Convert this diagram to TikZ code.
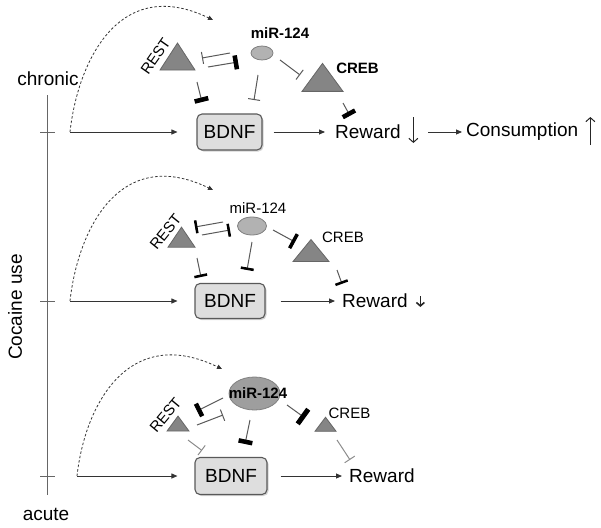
\documentclass[tikz,border=0pt]{standalone}
\usepackage{fontspec}
\setmainfont{Liberation Sans}
\usetikzlibrary{arrows.meta,shapes.geometric,shadows,positioning}
\tikzset{
  big/.style={font=\fontsize{19}{22}\selectfont, inner sep=1pt},
  lbl/.style={font=\fontsize{15}{18}\selectfont, inner sep=1pt},
  lblb/.style={font=\fontsize{15}{18}\selectfont\bfseries, inner sep=1pt},
  axis/.style={draw=black!60, line width=.9pt},
  bdnfbox/.style={big, draw=black!65, fill=black!13, rounded corners=5pt, line width=1.1pt,
    drop shadow={opacity=.35, shadow xshift=1.5pt, shadow yshift=-1.5pt}},
  tri/.style={isosceles triangle, isosceles triangle stretches, shape border rotate=90,
    inner sep=0pt, draw=black!60, fill=black!48, line width=.8pt},
  mirna/.style={ellipse, inner sep=0pt, draw=black!50, fill=black!30, line width=.8pt},
  act/.style={draw=black!80, line width=.9pt, -{Triangle[length=6pt,width=5pt]}},
  updn/.style={draw=black!85, line width=1pt, -{Straight Barb[length=4pt,width=9pt]}},
  dashcurve/.style={draw=black!80, line width=.8pt, dash pattern=on 2.5pt off 2pt,
    -{Triangle[length=5pt,width=4.5pt]}},
  inhthin/.style={draw=black!65, line width=1pt, -{Bar[width=12pt]}},
  inhlight/.style={draw=black!45, line width=1pt, -{Bar[width=12pt]}},
  inhmid/.style={draw=black!65, line width=1pt, -{Rectangle[length=2.5pt,width=13pt,black]}},
  inhthick/.style={draw=black!65, line width=1pt, -{Rectangle[length=4.5pt,width=14pt,black]}},
}
\begin{document}
\begin{tikzpicture}[x=1pt,y=-1pt]
\useasboundingbox (0,0) rectangle (601,527);
% time axis
\coordinate (axtop) at (47,95);
\coordinate (axbot) at (47,495);
\draw[axis] (axtop) -- (axbot);
\foreach \y in {132,301,476} \draw[axis] (40,\y) -- (55,\y);
\node[big] (chronic) at (48,79) {chronic};
\node[big] (acute) at (46,514) {acute};
\node[big, rotate=90] (use) at (15,307) {Cocaine use};

% chronic
\coordinate (s1) at (70,132);
\node[tri, minimum width=35pt, minimum height=27pt] (rest1) at (177.5,60.5) {};
\node[lbl, rotate=55] (restl1) at (155.5,56) {REST};
\node[mirna, minimum width=22pt, minimum height=14pt] (mir1) at (262,53) {};
\node[lblb] (mirl1) at (280,33) {miR-124};
\node[tri, minimum width=41pt, minimum height=28pt] (creb1) at (322.5,81) {};
\node[lblb] (crebl1) at (357.5,68) {CREB};
\node[bdnfbox, minimum width=65pt, minimum height=36pt] (bdnf1) at (229.5,132) {BDNF};
\node[big, anchor=west] (reward1) at (334,132) {Reward};
\node[big, anchor=west] (cons1) at (465,132) {Consumption};
\draw[dashcurve] (s1) .. controls +(8,-72) and +(-93,-45) .. ([shift={(-49,-33)}]mir1.center);
\draw[act] (s1) -- ([xshift=-19pt]bdnf1.west);
\draw[act] ([xshift=11pt]bdnf1.east) -- ([xshift=-9pt]reward1.west);
\draw[act] ([xshift=26.5pt]reward1.east) -- ([xshift=-3pt]cons1.west);
\draw[updn] ([shift={(11.5,-15)}]reward1.east) -- ++(0,26);
\draw[updn] ([shift={(11,13)}]cons1.east) -- ++(0,-28);
\draw[inhthin] ([shift={(-32,0)}]mir1.center) -- ([shift={(24.5,-2.5)}]rest1.center);
\draw[inhthick] ([shift={(30.5,6.5)}]rest1.center) -- ([shift={(-24,9)}]mir1.center);
\draw[inhthin] ([shift={(18,7)}]mir1.center) -- ([shift={(-22.5,-6)}]creb1.center);
\draw[inhthick] ([shift={(20.5,22)}]creb1.center) -- ([shift={(16,-8)}]reward1.north west);
\draw[inhthick] ([shift={(19.5,21.5)}]rest1.center) -- ([shift={(-27.5,-30)}]bdnf1.center);
\draw[inhthin] ([shift={(-4,22)}]mir1.center) -- ([shift={(24.5,-32)}]bdnf1.center);

% intermediate
\coordinate (s2) at (70,301);
\node[tri, minimum width=27pt, minimum height=20pt] (rest2) at (181.5,240) {};
\node[lbl, rotate=51] (restl2) at (165.5,232) {REST};
\node[mirna, minimum width=29pt, minimum height=18pt] (mir2) at (252,226) {};
\node[lbl] (mirl2) at (258,208) {miR-124};
\node[tri, minimum width=36pt, minimum height=22pt] (creb2) at (311,253) {};
\node[lbl] (crebl2) at (343,237) {CREB};
\node[bdnfbox, minimum width=70pt, minimum height=35pt] (bdnf2) at (230,301) {BDNF};
\node[big, anchor=west] (reward2) at (341,301) {Reward};
\draw[dashcurve] (s2) .. controls +(8,-72) and +(-93,-45) .. ([shift={(-39,-36)}]mir2.center);
\draw[act] (s2) -- ([xshift=-17pt]bdnf2.west);
\draw[act] ([xshift=15pt]bdnf2.east) -- ([xshift=-6pt]reward2.west);
\draw[updn, line width=1.6pt, -{Straight Barb[length=3.5pt,width=8pt]}] ([shift={(11.5,-5)}]reward2.east) -- ++(0,11);
\draw[inhmid] ([shift={(-29,-4)}]mir2.center) -- ([shift={(13.5,-13)}]rest2.center);
\draw[inhmid] ([shift={(20.5,-5)}]rest2.center) -- ([shift={(-22,4)}]mir2.center);
\draw[inhmid, -{Rectangle[length=3.5pt,width=16pt,black]}] ([shift={(21,4)}]mir2.center) -- ([shift={(-16,-11)}]creb2.center);
\draw[inhmid] ([shift={(26,17)}]creb2.center) -- ([shift={(1,-9)}]reward2.north west);
\draw[inhmid] ([shift={(15.5,18)}]rest2.center) -- ([shift={(-29,-24)}]bdnf2.center);
\draw[inhmid] ([shift={(0,16)}]mir2.center) -- ([shift={(17,-31)}]bdnf2.center);

% acute
\coordinate (s3) at (77,476);
\node[tri, minimum width=22pt, minimum height=15pt] (rest3) at (178,425.5) {};
\node[lbl, rotate=50] (restl3) at (165.5,415) {REST};
\node[mirna, fill=black!38, minimum width=51pt, minimum height=33pt] (mir3) at (254.5,393.5) {};
\node[lblb] (mirl3) at (258,393) {miR-124};
\node[tri, minimum width=21pt, minimum height=14pt] (creb3) at (325.5,426) {};
\node[lbl] (crebl3) at (349.5,413) {CREB};
\node[bdnfbox, minimum width=72pt, minimum height=37pt] (bdnf3) at (231,476) {BDNF};
\node[big, anchor=west] (reward3) at (348,476) {Reward};
\draw[dashcurve] (s3) .. controls +(8,-72) and +(-93,-45) .. ([shift={(-32.5,-24.5)}]mir3.center);
\draw[act] (s3) -- ([xshift=-17pt]bdnf3.west);
\draw[act] ([xshift=13pt]bdnf3.east) -- ([xshift=-6pt]reward3.west);
\draw[inhthick] ([shift={(-31.5,4.5)}]mir3.center) -- ([shift={(19,-14.5)}]rest3.center);
\draw[inhthin] ([shift={(19,-0.5)}]rest3.center) -- ([shift={(-31.5,21.5)}]mir3.center);
\draw[inhthick, -{Rectangle[length=5pt,width=18pt,black]}] ([shift={(32.5,11.5)}]mir3.center) -- ([shift={(-20.5,-8)}]creb3.center);
\draw[inhlight] ([shift={(11.5,14)}]creb3.center) -- ([shift={(2,-8)}]reward3.north west);
\draw[inhlight] ([shift={(10,14.5)}]rest3.center) -- ([shift={(-29,-25.5)}]bdnf3.center);
\draw[inhthick] ([shift={(-4.5,26.5)}]mir3.center) -- ([shift={(14,-32)}]bdnf3.center);
\end{tikzpicture}
\end{document}
